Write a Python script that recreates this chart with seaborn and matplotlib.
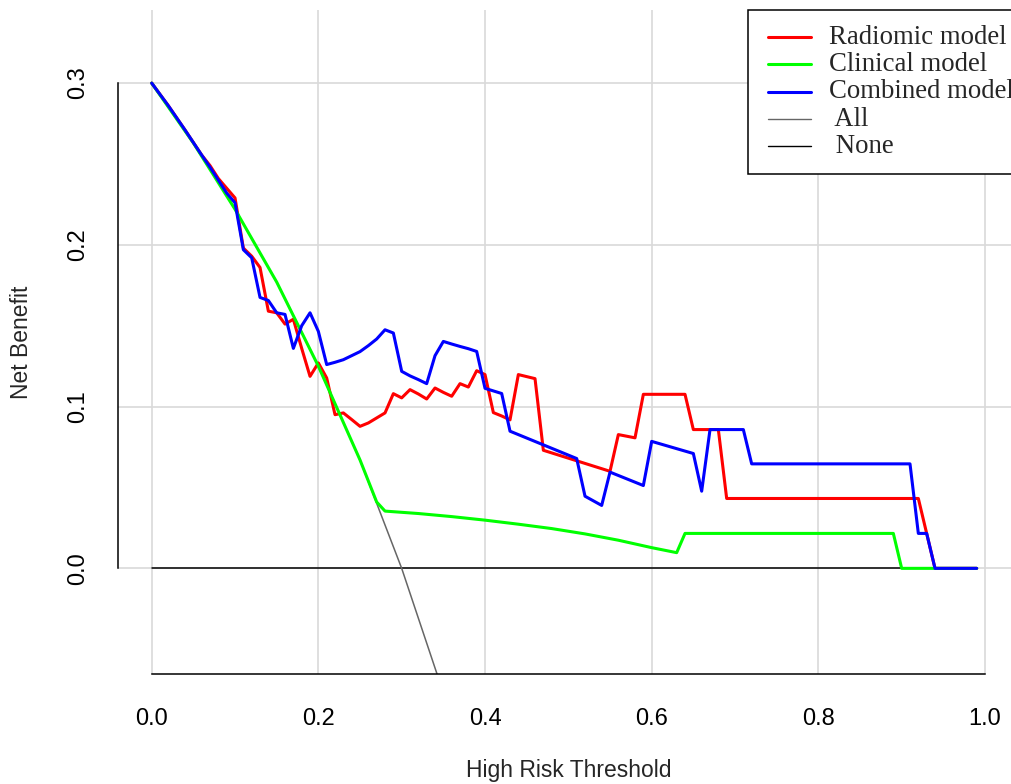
import matplotlib
matplotlib.use("Agg")
import matplotlib.pyplot as plt
import seaborn as sns
import pandas as pd
from matplotlib.lines import Line2D
from matplotlib.patches import Rectangle

# ---------------- data ----------------
radiomic_t = [0.00, 0.02, 0.04, 0.06, 0.07, 0.08, 0.09, 0.10, 0.11, 0.12, 0.13, 0.14, 0.15,
              0.16, 0.17, 0.18, 0.19, 0.20, 0.21, 0.22, 0.23, 0.24, 0.25, 0.26, 0.27, 0.28,
              0.29, 0.30, 0.31, 0.32, 0.33, 0.34, 0.35, 0.36, 0.37, 0.38, 0.39, 0.40, 0.41,
              0.42, 0.43, 0.44, 0.46, 0.47, 0.55, 0.56, 0.58, 0.59, 0.64, 0.65, 0.68, 0.69,
              0.92, 0.93, 0.94, 0.99]
radiomic_nb = [0.300, 0.286, 0.271, 0.2555, 0.249, 0.241, 0.235, 0.229, 0.198, 0.193, 0.186,
               0.159, 0.158, 0.151, 0.154, 0.136, 0.1187, 0.127, 0.1177, 0.095, 0.0961, 0.092,
               0.0878, 0.0899, 0.093, 0.0961, 0.108, 0.1054, 0.1105, 0.1078, 0.1047, 0.1115,
               0.1088, 0.1064, 0.1142, 0.1121, 0.1222, 0.1198, 0.0963, 0.0942, 0.0918, 0.1198,
               0.1173, 0.073, 0.060, 0.0827, 0.0807, 0.1076, 0.1076, 0.0858, 0.0858, 0.0432,
               0.0432, 0.0216, 0.0, 0.0]

clinical_t = [0.00, 0.05, 0.10, 0.15, 0.20, 0.25, 0.27, 0.28, 0.32, 0.36, 0.40, 0.44, 0.48,
              0.52, 0.56, 0.60, 0.63, 0.64, 0.89, 0.90, 0.99]
clinical_nb = [0.300, 0.263, 0.222, 0.177, 0.125, 0.067, 0.041, 0.0354, 0.0339, 0.0320,
               0.0298, 0.0273, 0.0246, 0.0213, 0.0174, 0.0128, 0.0097, 0.0216, 0.0216, 0.0, 0.0]

combined_t = [0.00, 0.02, 0.04, 0.06, 0.07, 0.08, 0.09, 0.10, 0.11, 0.12, 0.13, 0.14, 0.15,
              0.16, 0.17, 0.18, 0.19, 0.20, 0.21, 0.22, 0.23, 0.24, 0.25, 0.26, 0.27, 0.28,
              0.29, 0.30, 0.31, 0.32, 0.33, 0.34, 0.35, 0.36, 0.37, 0.38, 0.39, 0.40, 0.41,
              0.42, 0.43, 0.51, 0.52, 0.54, 0.55, 0.59, 0.60, 0.65, 0.66, 0.67, 0.71, 0.72,
              0.91, 0.92, 0.93, 0.94, 0.99]
combined_nb = [0.300, 0.286, 0.271, 0.2555, 0.248, 0.240, 0.232, 0.226, 0.197, 0.192, 0.1675,
               0.1656, 0.158, 0.157, 0.136, 0.150, 0.158, 0.1465, 0.126, 0.1274, 0.129, 0.1315,
               0.134, 0.1377, 0.1418, 0.1475, 0.1455, 0.1218, 0.119, 0.1167, 0.1142, 0.1315,
               0.1403, 0.1387, 0.1372, 0.1358, 0.1341, 0.1113, 0.1097, 0.1081, 0.0848, 0.0679,
               0.0446, 0.0389, 0.0595, 0.0512, 0.0785, 0.071, 0.0477, 0.0858, 0.0858, 0.0646,
               0.0646, 0.0216, 0.0216, 0.0, 0.0]

all_t = [0.00, 0.05, 0.10, 0.15, 0.20, 0.25, 0.30, 0.35]
all_nb = [0.300, 0.263, 0.222, 0.177, 0.125, 0.067, 0.000, -0.077]

none_t = [0.00, 0.99]
none_nb = [0.0, 0.0]

model_names = ["Radiomic model", "Clinical model", "Combined model"]
legend_labels = ["Radiomic model", "Clinical model", "Combined model", " All", " None"]
x_ticks = [0.0, 0.2, 0.4, 0.6, 0.8, 1.0]
x_ticklabels = ["0.0", "0.2", "0.4", "0.6", "0.8", "1.0"]
y_ticks = [0.0, 0.1, 0.2, 0.3]
y_ticklabels = ["0.0", "0.1", "0.2", "0.3"]
x_label = "High Risk Threshold"
y_label = "Net Benefit"

# ---------------- styling ----------------
sns.set_style("white")
plt.rcParams["font.family"] = ["Liberation Sans", "DejaVu Sans"]

colors = {"Radiomic model": "#FF0000", "Clinical model": "#00FF00", "Combined model": "#0000FF"}
all_color = "#666666"
none_color = "#000000"
grid_color = "#D9D9D9"

W, H = 1011, 784
fig = plt.figure(figsize=(W / 100, H / 100), dpi=100)
fig.patch.set_facecolor("white")

ax_left, ax_right, ax_top, ax_bottom = 117.7, 1019.0, 10.0, 674.3
ax = fig.add_axes([ax_left / W, 1 - ax_bottom / H, (ax_right - ax_left) / W, (ax_bottom - ax_top) / H])
ax.set_facecolor("white")

# long table for the three models
frames = []
for name, t, nb in [(model_names[0], radiomic_t, radiomic_nb),
                    (model_names[1], clinical_t, clinical_nb),
                    (model_names[2], combined_t, combined_nb)]:
    frames.append(pd.DataFrame({"threshold": t, "net_benefit": nb, "model": name}))
df = pd.concat(frames, ignore_index=True)

# reference lines
sns.lineplot(x=none_t, y=none_nb, color=none_color, lw=1.1, ax=ax, estimator=None, sort=False)
sns.lineplot(x=all_t, y=all_nb, color=all_color, lw=1.1, ax=ax, estimator=None, sort=False)

sns.lineplot(data=df, x="threshold", y="net_benefit", hue="model", hue_order=model_names,
             palette=colors, lw=2.2, estimator=None, sort=False, legend=False, ax=ax)

ax.set_xlim(-0.0408, 1.0408)
ax.set_ylim(-0.0655, 0.3452)

ax.grid(True, color=grid_color, lw=1.2)
ax.set_axisbelow(True)

for s in ["top", "right"]:
    ax.spines[s].set_visible(False)
for s in ["left", "bottom"]:
    ax.spines[s].set_visible(True)
    ax.spines[s].set_color("black")
    ax.spines[s].set_linewidth(1.1)
ax.spines["bottom"].set_bounds(0, 1)
ax.spines["left"].set_bounds(0, 0.3)

ax.set_xticks(x_ticks)
ax.set_xticklabels(x_ticklabels)
ax.set_yticks(y_ticks)
ax.set_yticklabels(y_ticklabels, rotation=90, va="center")
ax.tick_params(axis="both", which="major", direction="out", length=9.8, width=1.1,
               color="black", labelsize=17, labelcolor="black")
ax.tick_params(axis="x", pad=14.5)
ax.tick_params(axis="y", pad=10.5)
ax.set_xlabel("")
ax.set_ylabel("")

fig.text(568.4 / W, 1 - 770 / H, x_label, ha="center", va="center", fontsize=16.5)
fig.text(22 / W, 1 - 342 / H, y_label, ha="center", va="center", rotation=90, fontsize=16.5)

# ---------------- legend (R-style box, clipped at the right edge) ----------------
def fx(px):
    return px / W

def fy(py):
    return 1 - py / H

box = Rectangle((fx(748.3), fy(174)), fx(1019) - fx(748.3), fy(10) - fy(174),
                transform=fig.transFigure, facecolor="white", edgecolor="black", lw=1.1,
                zorder=5)
fig.add_artist(box)
leg_colors = [colors[model_names[0]], colors[model_names[1]], colors[model_names[2]],
              all_color, none_color]
leg_lw = [2.2, 2.2, 2.2, 1.0, 1.0]
row0, pitch = 36.7, 27.4
for i, (lab, c, lw) in enumerate(zip(legend_labels, leg_colors, leg_lw)):
    yy = row0 + i * pitch
    fig.add_artist(Line2D([fx(768), fx(811)], [fy(yy), fy(yy)], transform=fig.transFigure,
                          color=c, lw=lw, zorder=6))
    fig.text(fx(829), fy(yy + 6.8), lab, ha="left", va="baseline", fontsize=19.3,
             family=["Liberation Serif", "DejaVu Serif"], zorder=6)

fig.savefig("out.png", dpi=100, facecolor="white")
